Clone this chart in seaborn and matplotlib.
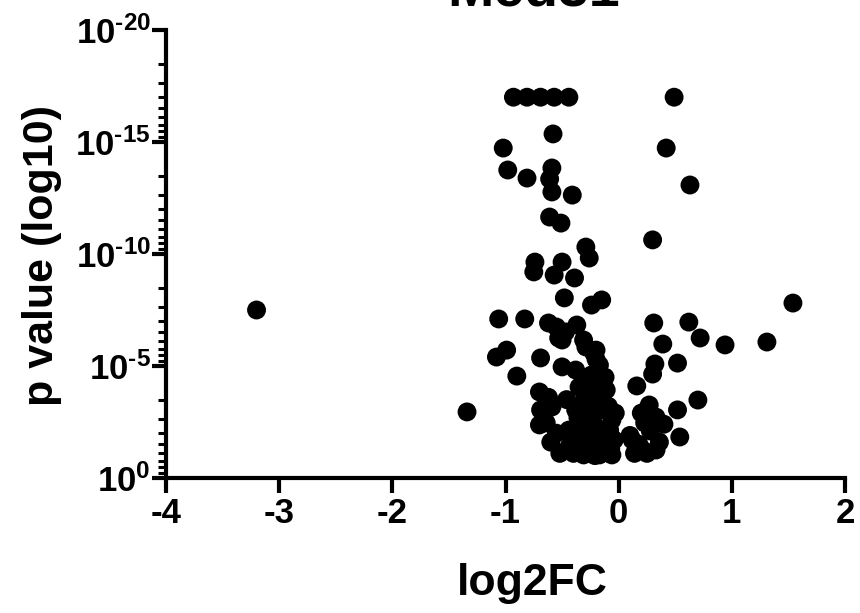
import numpy as np
import pandas as pd
import matplotlib
matplotlib.use("Agg")
import matplotlib.pyplot as plt
import seaborn as sns
from matplotlib.ticker import FixedLocator, NullFormatter

# ---- data (log2 fold change, log10 p value) ----
log2fc = [
    -0.93, -0.81, -0.69, -0.57, -0.44, 0.49,
    -0.58, -1.02, -0.98, -0.81, -0.59, -0.61, -0.59, -0.41,
    0.42, 0.63,
    -0.61, -0.51, 0.30, -0.29,
    -0.74, -0.75, -0.50, -0.26, -0.57, -0.39, -0.48, -0.24, -0.15,
    -1.06, -0.83, -0.62, -0.47, -0.37, -0.31, -0.20, -0.53,
    -1.08, -0.99, -0.69, -0.90, -0.50, -0.38,
    -1.34, -3.20,
    -0.70, -0.69, -0.70, -0.59,
    0.31, 0.62, 0.72, 0.94, 1.31, 1.54, 0.39, 0.52, 0.32, 0.30, 0.16,
    0.70, 0.27, 0.20, 0.33, 0.52, 0.23, 0.12, 0.21, 0.33, 0.54,
    -0.55, -0.50, -0.29, -0.22, -0.35, -0.20, -0.11,
    -0.38, -0.26, -0.15, -0.06, -0.44, -0.32, -0.20, -0.08,
    -0.44, -0.26, -0.11, -0.35, -0.64,
    -0.17, -0.04, -0.06, -0.17, -0.31, -0.22,
    -0.12, -0.05, -0.28, -0.42, -0.60, -0.52, -0.33, -0.09, -0.24,
    0.10, 0.18, 0.28, 0.36, 0.25, 0.14, 0.40,
    -0.30, -0.18, -0.10, -0.25, -0.14, -0.36, -0.46, -0.30, -0.20,
    -0.13, -0.40, -0.55, -0.62, -0.07, -0.33, -0.21, -0.03,
]
log10_p = [
    -17.0, -17.0, -17.0, -17.0, -17.0, -17.0,
    -15.36, -14.73, -13.75, -13.39, -13.84, -13.35, -12.77, -12.63,
    -14.73, -13.08,
    -11.65, -11.38, -10.63, -10.31,
    -9.64, -9.2, -9.64, -9.82, -9.06, -8.93, -8.04, -7.72, -7.95,
    -7.1, -7.1, -6.92, -6.52, -6.83, -6.16, -5.71, -6.25,
    -5.4, -5.71, -5.36, -4.55, -4.96, -4.82,
    -2.95, -7.5,
    -3.84, -3.04, -2.37, -3.17,
    -6.92, -6.96, -6.25, -5.94, -6.07, -7.81, -5.98, -5.13, -5.09, -4.64, -4.11,
    -3.48, -3.26, -2.9, -2.72, -3.04, -2.46, -1.7, -1.25, -1.25, -1.83,
    -6.74, -6.16, -5.85, -5.58, -4.06, -4.24, -3.93,
    -3.04, -3.17, -3.35, -2.59, -2.14, -2.28, -2.28, -2.14,
    -1.38, -1.25, -1.34, -1.7, -2.46,
    -5.04, -1.7, -1.03, -1.03, -1.03, -3.7,
    -4.5, -2.9, -2.6, -1.9, -1.6, -1.1, -1.5, -3.2, -4.6,
    -1.9, -1.5, -2.1, -1.6, -1.1, -1.1, -2.4,
    -3.6, -3.0, -2.0, -1.8, -1.5, -2.7, -3.5, -4.4, -5.3,
    -4.0, -1.1, -2.0, -3.6, -1.3, -2.0, -1.0, -2.9,
]

x_ticks = [-4, -3, -2, -1, 0, 1, 2]
y_major = [1e0, 1e-5, 1e-10, 1e-15, 1e-20]
y_major_labels = [r"$10^{\text{0}}$", r"$10^{\text{-5}}$", r"$10^{\text{-10}}$",
                  r"$10^{\text{-15}}$", r"$10^{\text{-20}}$"]

df = pd.DataFrame({"log2FC": log2fc, "p": 10.0 ** np.array(log10_p)})

sns.set_theme(style="ticks")
plt.rcParams["font.family"] = ["Liberation Sans", "DejaVu Sans"]
plt.rcParams["font.weight"] = "bold"
plt.rcParams["text.color"] = "black"
plt.rcParams["axes.labelcolor"] = "black"
plt.rcParams["xtick.color"] = "black"
plt.rcParams["ytick.color"] = "black"
plt.rcParams["mathtext.fontset"] = "custom"
plt.rcParams["mathtext.rm"] = "Liberation Sans:bold"
plt.rcParams["mathtext.it"] = "Liberation Sans:bold"
plt.rcParams["mathtext.bf"] = "Liberation Sans:bold"

fig = plt.figure(figsize=(8.6, 6.13), dpi=100)
ax = fig.add_axes([166 / 860, 1 - 478 / 613, (845 - 166) / 860, (478 - 30) / 613])

sns.scatterplot(data=df, x="log2FC", y="p", ax=ax, color="black", s=185,
                edgecolor="none", linewidth=0, legend=False, clip_on=False)

ax.set_yscale("log")
ax.set_ylim(1, 1e-20)
ax.set_xlim(-4, 2)

for side in ["top", "right"]:
    ax.spines[side].set_visible(False)
for side in ["left", "bottom"]:
    ax.spines[side].set_linewidth(3.0)
    ax.spines[side].set_color("black")

ax.set_xticks(x_ticks)
ax.set_xticklabels([str(t) for t in x_ticks])
ax.yaxis.set_major_locator(FixedLocator(y_major))
ax.set_yticklabels(y_major_labels)

minor = []
for j in range(4):
    for k in range(2, 10):
        minor.append(10.0 ** (-5 * j - 5 * (1 - np.log10(k))))
ax.yaxis.set_minor_locator(FixedLocator(minor))
ax.yaxis.set_minor_formatter(NullFormatter())

ax.tick_params(axis="x", which="major", length=11, width=3.0, labelsize=25, pad=3)
ax.tick_params(axis="y", which="major", length=10, width=3.0, labelsize=25, pad=1)
ax.tick_params(axis="y", which="minor", length=6, width=2.2)
ax.tick_params(axis="x", which="minor", length=0)

for lab in ax.get_xticklabels() + ax.get_yticklabels():
    lab.set_fontweight("bold")

ax.set_xlabel("log2FC", fontsize=32, fontweight="bold")
ax.xaxis.set_label_coords((532 - 166) / 679, (478 - 584) / 448)
ax.xaxis.label.set_va("center")
ax.set_ylabel("p value (log10)", fontsize=31, fontweight="bold")
ax.yaxis.set_label_coords((42 - 166) / 679, (478 - 256) / 448)
ax.yaxis.label.set_va("center")

fig.text(534 / 860, 1 - 6 / 613, "Med31", ha="center", va="baseline",
         fontsize=40, fontweight="bold")

fig.savefig("out.png", dpi=100, facecolor="white")
